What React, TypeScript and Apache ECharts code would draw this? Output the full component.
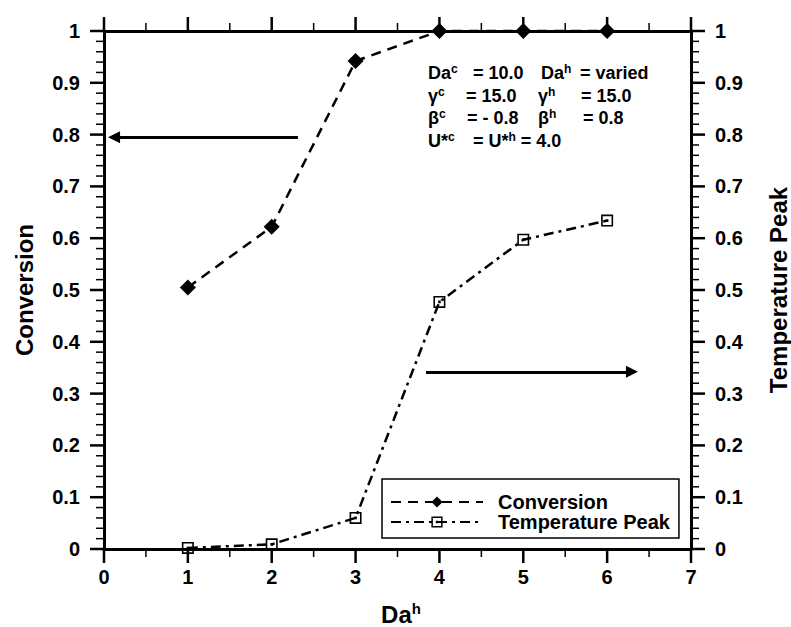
import React, { useEffect, useRef } from "react";
import * as echarts from "echarts";

// ---- data ----
const daH = [1, 2, 3, 4, 5, 6];
const conversion = [0.505, 0.622, 0.942, 1.0, 1.0, 1.0];
const temperaturePeak = [0.002, 0.009, 0.06, 0.477, 0.597, 0.634];
const seriesNames = ["Conversion", "Temperature Peak"];
const xTitle = "Da^h";
const xRange = [0, 7];
const yRange = [0, 1];
const xMajorStep = 1;
const xMinorDivs = 2;
const yMajorStep = 0.1;
const yMinorDivs = 5;
const leftArrow = [[2.313, 0.795], [0.12, 0.795]];
const rightArrow = [[3.84, 0.342], [6.296, 0.342]];
const annotationText = [
  ["Da^c", "= 10.0", "Da^h", "= varied"],
  ["γ^c", "= 15.0", "γ^h", "= 15.0"],
  ["β^c", "= - 0.8", "β^h", "= 0.8"],
  ["U*^c", "= U*^h = 4.0"],
];

const FONT = "'Liberation Sans', Arial, Helvetica, sans-serif";

function toRich(s: string) {
  return "{b|" + s.replace(/\^(.)/g, "}{s|$1}{b|") + "}";
}

// tick marks for the four frame axes: [x, y, direction, isMajor]
function buildTicks() {
  const out: number[][] = [];
  const nx = Math.round((xRange[1] - xRange[0]) / xMajorStep) * xMinorDivs;
  for (let i = 0; i <= nx; i++) {
    const v = xRange[0] + (i * xMajorStep) / xMinorDivs;
    const major = i % xMinorDivs === 0 ? 1 : 0;
    out.push([v, yRange[0], 2, major]);
    out.push([v, yRange[1], 3, major]);
  }
  const ny = Math.round((yRange[1] - yRange[0]) / yMajorStep) * yMinorDivs;
  for (let i = 0; i <= ny; i++) {
    const v = yRange[0] + (i * yMajorStep) / yMinorDivs;
    const major = i % yMinorDivs === 0 ? 1 : 0;
    out.push([xRange[0], v, 0, major]);
    out.push([xRange[1], v, 1, major]);
  }
  return out;
}

export default function App() {
  const ref = useRef<HTMLDivElement>(null);
  useEffect(() => {
    if (!ref.current) return;
    const chart = echarts.init(ref.current, undefined, { renderer: "svg" });

    const colX = [
      [428, 473, 541, 580],
      [428, 466, 538, 581],
      [428, 467, 538, 583],
      [428, 473],
    ];
    const rowY = [73, 96, 118, 141];
    const graphics: any[] = [];
    annotationText.forEach((line, r) => {
      line.forEach((seg, c) => {
        graphics.push({
          type: "text",
          x: colX[r][c],
          y: rowY[r],
          z: 10,
          style: {
            text: toRich(seg),
            verticalAlign: "middle",
            align: "left",
            fill: "#000",
            rich: {
              b: { fontSize: 18, fontWeight: "bold", fontFamily: FONT, lineHeight: 20, fill: "#000" },
              s: { fontSize: 12, fontWeight: "bold", fontFamily: FONT, lineHeight: 12, verticalAlign: "top", fill: "#000" },
            },
          },
        });
      });
    });
    graphics.push({
      type: "text",
      x: 401,
      y: 614,
      z: 10,
      style: {
        text: toRich(xTitle),
        align: "center",
        verticalAlign: "middle",
        fill: "#000",
        rich: {
          b: { fontSize: 24, fontWeight: "bold", fontFamily: FONT, lineHeight: 26, fill: "#000" },
          s: { fontSize: 15, fontWeight: "bold", fontFamily: FONT, lineHeight: 15, verticalAlign: "top", fill: "#000" },
        },
      },
    });
    graphics.push({
      type: "text",
      x: 24,
      y: 290,
      rotation: Math.PI / 2,
      z: 10,
      style: {
        text: seriesNames[0],
        align: "center",
        verticalAlign: "middle",
        fill: "#000",
        fontSize: 24,
        fontWeight: "bold",
        fontFamily: FONT,
      },
    });
    graphics.push({
      type: "text",
      x: 778,
      y: 290,
      rotation: Math.PI / 2,
      z: 10,
      style: {
        text: seriesNames[1],
        align: "center",
        verticalAlign: "middle",
        fill: "#000",
        fontSize: 24,
        fontWeight: "bold",
        fontFamily: FONT,
      },
    });

    const labelStyle = { color: "#000", fontSize: 20, fontWeight: "bold" as const, fontFamily: FONT };

    const squareDot =
      "path://M0,0H12V12H0Z M1.6,1.6V10.4H10.4V1.6Z M4.7,4.7H7.3V7.3H4.7Z";

    const axisCommon = {
      axisLine: { show: true, onZero: false, lineStyle: { color: "#000", width: 3 } },
      axisTick: { show: false },
      minorTick: { show: false },
      splitLine: { show: false },
    };

    chart.setOption({
      animation: false,
      backgroundColor: "#fff",
      textStyle: { fontFamily: FONT },
      grid: { left: 104, right: 100, top: 31, bottom: 78, containLabel: false },
      legend: {
        data: seriesNames,
        orient: "vertical",
        left: 382,
        top: 479,
        padding: [13, 9, 6, 8],
        itemWidth: 92,
        itemHeight: 14,
        itemGap: 0,
        borderColor: "#000",
        borderWidth: 1.5,
        borderRadius: 0,
        backgroundColor: "#fff",
        z: 20,
        selectedMode: false,
        textStyle: { ...labelStyle, lineHeight: 20, padding: [0, 0, 0, 10] },
      },
      xAxis: [
        {
          type: "value", min: xRange[0], max: xRange[1], interval: xMajorStep, position: "bottom",
          ...axisCommon,
          axisLabel: { ...labelStyle, margin: 18 },
        },
        {
          type: "value", min: xRange[0], max: xRange[1], interval: xMajorStep, position: "top",
          ...axisCommon,
          axisLabel: { show: false },
        },
      ],
      yAxis: [
        {
          type: "value", min: yRange[0], max: yRange[1], interval: yMajorStep, position: "left",
          ...axisCommon,
          axisLabel: { ...labelStyle, margin: 24 },
        },
        {
          type: "value", min: yRange[0], max: yRange[1], interval: yMajorStep, position: "right",
          ...axisCommon,
          axisLabel: { ...labelStyle, margin: 24 },
        },
      ],
      series: [
        {
          name: "_ticks",
          type: "custom",
          coordinateSystem: "cartesian2d",
          xAxisIndex: 0,
          yAxisIndex: 0,
          silent: true,
          clip: false,
          z: 4,
          encode: { x: 0, y: 1 },
          data: buildTicks(),
          renderItem: (_params: any, api: any) => {
            const p = api.coord([api.value(0), api.value(1)]);
            const dir = api.value(2);
            const major = api.value(3) === 1;
            const len = major ? 14 : 8;
            const dx = dir === 0 ? -len : dir === 1 ? len : 0;
            const dy = dir === 2 ? len : dir === 3 ? -len : 0;
            return {
              type: "line",
              shape: { x1: p[0], y1: p[1], x2: p[0] + dx, y2: p[1] + dy },
              style: { stroke: "#000", lineWidth: major ? 2.5 : 1.5 },
            };
          },
        },
        {
          name: seriesNames[0],
          type: "line",
          xAxisIndex: 0,
          yAxisIndex: 0,
          data: daH.map((x, i) => [x, conversion[i]]),
          symbol: "diamond",
          symbolSize: 16,
          showAllSymbol: true,
          clip: false,
          z: 3,
          itemStyle: { color: "#000" },
          lineStyle: { color: "#000", width: 2.5, type: [10, 7] },
          emphasis: { disabled: true },
          markLine: {
            silent: true,
            animation: false,
            symbol: ["none", "triangle"],
            symbolSize: 12,
            label: { show: false },
            lineStyle: { color: "#000", width: 3, type: "solid" },
            data: [[{ coord: leftArrow[0] }, { coord: leftArrow[1] }]],
          },
        },
        {
          name: seriesNames[1],
          type: "line",
          xAxisIndex: 0,
          yAxisIndex: 1,
          data: daH.map((x, i) => [x, temperaturePeak[i]]),
          symbol: squareDot,
          symbolSize: 12,
          showAllSymbol: true,
          clip: false,
          z: 3,
          itemStyle: { color: "#000" },
          lineStyle: { color: "#000", width: 2.5, type: [10, 5, 3, 5] },
          emphasis: { disabled: true },
          markLine: {
            silent: true,
            animation: false,
            symbol: ["none", "triangle"],
            symbolSize: 12,
            label: { show: false },
            lineStyle: { color: "#000", width: 3, type: "solid" },
            data: [[{ coord: rightArrow[0] }, { coord: rightArrow[1] }]],
          },
        },
      ],
      graphic: graphics,
    });
    return () => chart.dispose();
  }, []);
  return (
    <div
      ref={ref}
      style={{ position: "fixed", left: 0, top: 0, width: 791, height: 627, background: "#fff" }}
    />
  );
}
